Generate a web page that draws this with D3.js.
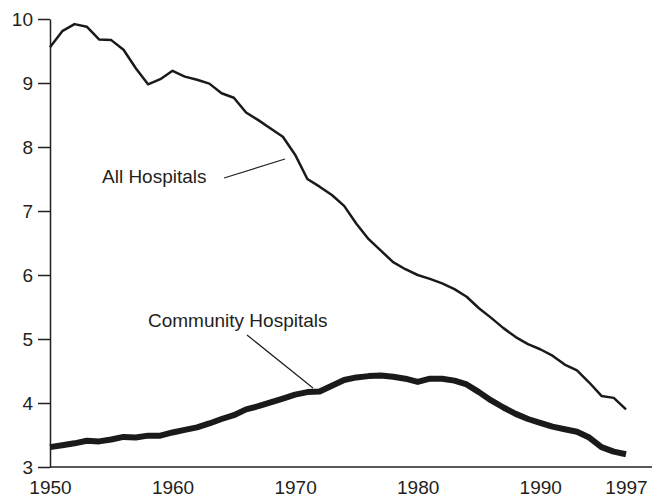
<!DOCTYPE html>
<html>
<head>
<meta charset="utf-8">
<script src="https://cdn.jsdelivr.net/npm/d3@7"></script>
<style>
  body { margin: 0; background: #fff; }
  #chart { width: 666px; height: 498px; }
  text { font-family: "Liberation Sans", Arial, Helvetica, sans-serif; fill: #231f20; }
</style>
</head>
<body>
<div id="chart"></div>
<script>

var years = d3.range(1950, 1998);

var allHospitals = [9.56, 9.81, 9.92, 9.88, 9.68, 9.67, 9.52, 9.23, 8.98, 9.06,
    9.19, 9.10, 9.05, 8.99, 8.84, 8.77, 8.54, 8.42, 8.29, 8.16,
    7.88, 7.50, 7.38, 7.25, 7.08, 6.80, 6.56, 6.38, 6.20, 6.09,
    6.00, 5.94, 5.87, 5.78, 5.66, 5.48, 5.33, 5.17, 5.03, 4.92,
    4.84, 4.74, 4.60, 4.51, 4.32, 4.11, 4.08, 3.90];

var communityHospitals = [3.31, 3.34, 3.37, 3.41, 3.40, 3.43, 3.47, 3.46, 3.49, 3.49,
    3.54, 3.58, 3.62, 3.68, 3.75, 3.81, 3.90, 3.95, 4.01, 4.07,
    4.13, 4.17, 4.18, 4.27, 4.36, 4.40, 4.42, 4.43, 4.41, 4.38,
    4.33, 4.38, 4.38, 4.35, 4.29, 4.17, 4.04, 3.93, 3.83, 3.75,
    3.69, 3.63, 3.59, 3.55, 3.46, 3.31, 3.24, 3.20];

var xTicks = [1950, 1960, 1970, 1980, 1990, 1997];
var yTicks = [3, 4, 5, 6, 7, 8, 9, 10];

var width = 666;
var height = 498;
var margin = {top: 19, left: 50, right: 40, bottom: 31};

var svg = d3.select("#chart")
    .append("svg")
    .attr("width", width)
    .attr("height", height);

var xScale = d3.scaleLinear()
    .domain([1950, 1997])
    .range([margin.left, width - margin.right]);

var yScale = d3.scaleLinear()
    .domain([3, 10])
    .range([height - margin.bottom, margin.top]);

// x axis: labels only, the baseline is drawn a bit past 1997
var xAxis = svg.append("g")
    .attr("transform", `translate(0,${height - margin.bottom})`)
    .call(d3.axisBottom(xScale).tickValues(xTicks).tickFormat(d3.format("d")).tickSize(0).tickPadding(14));
xAxis.select(".domain").remove();
xAxis.attr("font-family", null);
xAxis.selectAll("text").attr("font-size", 19).style("fill", "#231f20");

svg.append("line")
    .attr("x1", margin.left)
    .attr("x2", width - 14)
    .attr("y1", yScale(3))
    .attr("y2", yScale(3))
    .attr("stroke", "#231f20")
    .attr("stroke-width", 1.5);

var yAxis = svg.append("g")
    .attr("transform", `translate(${margin.left},0)`)
    .call(d3.axisLeft(yScale).tickValues(yTicks).tickFormat(d3.format("d")).tickSize(12).tickPadding(5).tickSizeOuter(0));
yAxis.attr("font-family", null);
yAxis.select(".domain").attr("stroke", "#231f20").attr("stroke-width", 1.5);
yAxis.selectAll(".tick line").attr("stroke", "#231f20").attr("stroke-width", 1.5);
yAxis.selectAll("text").attr("font-size", 19).style("fill", "#231f20");

var line = d3.line()
    .x(function(d, i) { return xScale(years[i]); })
    .y(function(d) { return yScale(d); });

svg.append("path")
    .datum(allHospitals)
    .attr("d", line)
    .attr("fill", "none")
    .attr("stroke", "#1a1a1a")
    .attr("stroke-width", 2.5)
    .attr("stroke-linejoin", "round");

svg.append("path")
    .datum(communityHospitals)
    .attr("d", line)
    .attr("fill", "none")
    .attr("stroke", "#1a1a1a")
    .attr("stroke-width", 6)
    .attr("stroke-linejoin", "round");

// labels with leader lines
svg.append("text")
    .attr("x", 102)
    .attr("y", 183)
    .attr("font-size", 19)
    .text("All Hospitals");

svg.append("line")
    .attr("x1", 224).attr("y1", 178)
    .attr("x2", 285).attr("y2", 159)
    .attr("stroke", "#231f20")
    .attr("stroke-width", 1.2);

svg.append("text")
    .attr("x", 148)
    .attr("y", 327)
    .attr("font-size", 19)
    .text("Community Hospitals");

svg.append("line")
    .attr("x1", 247).attr("y1", 335)
    .attr("x2", 313).attr("y2", 388)
    .attr("stroke", "#231f20")
    .attr("stroke-width", 1.2);

</script>
</body>
</html>
